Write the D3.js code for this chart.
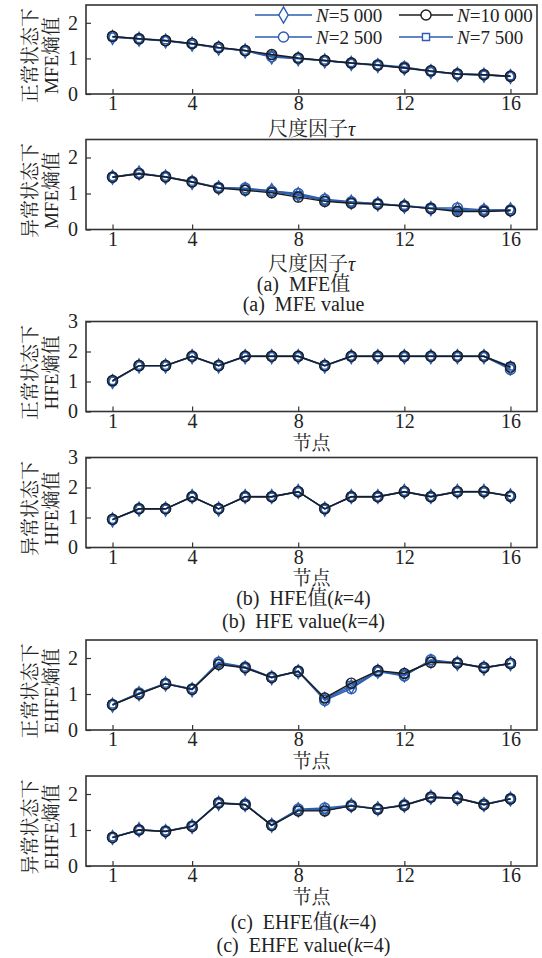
<!DOCTYPE html>
<html>
<head>
<meta charset="utf-8">
<script src="https://cdn.jsdelivr.net/npm/d3@7"></script>
<style>
  body { margin: 0; background: #fff; }
  svg { display: block; }
  text { font-family: "Liberation Serif", "Noto Serif CJK SC", "Noto Sans CJK SC", serif; fill: #222; }
</style>
</head>
<body>
<div id="chart-area"></div>
<script>
// series order: N=2 500, N=5 000, N=7 500, N=10 000
const sampleSizes = ["2 500", "5 000", "7 500", "10 000"];
const nodes = d3.range(1, 17);
const xTicks = [1, 4, 8, 12, 16];

const mfeNormal = [
  [1.61, 1.55, 1.50, 1.41, 1.30, 1.22, 1.05, 1.00, 0.94, 0.87, 0.82, 0.76, 0.64, 0.56, 0.54, 0.50],
  [1.59, 1.54, 1.49, 1.40, 1.29, 1.21, 1.04, 0.99, 0.93, 0.86, 0.80, 0.73, 0.63, 0.55, 0.53, 0.49],
  [1.61, 1.55, 1.51, 1.41, 1.30, 1.22, 1.08, 1.00, 0.94, 0.87, 0.81, 0.74, 0.64, 0.56, 0.54, 0.50],
  [1.62, 1.55, 1.50, 1.42, 1.31, 1.22, 1.11, 1.01, 0.94, 0.87, 0.81, 0.73, 0.65, 0.56, 0.54, 0.50]
];
const mfeAbnormal = [
  [1.46, 1.56, 1.47, 1.33, 1.17, 1.15, 1.07, 1.00, 0.84, 0.77, 0.72, 0.66, 0.60, 0.60, 0.54, 0.54],
  [1.45, 1.57, 1.46, 1.31, 1.16, 1.12, 1.08, 0.97, 0.82, 0.76, 0.71, 0.65, 0.58, 0.56, 0.53, 0.55],
  [1.46, 1.55, 1.47, 1.33, 1.16, 1.13, 1.05, 0.95, 0.80, 0.75, 0.72, 0.66, 0.59, 0.53, 0.52, 0.54],
  [1.45, 1.55, 1.46, 1.32, 1.15, 1.09, 1.02, 0.90, 0.78, 0.73, 0.70, 0.65, 0.58, 0.50, 0.50, 0.52]
];
const hfeNormal = [
  [1.01, 1.53, 1.53, 1.84, 1.53, 1.84, 1.84, 1.84, 1.53, 1.84, 1.84, 1.84, 1.84, 1.84, 1.84, 1.40],
  [1.00, 1.52, 1.52, 1.83, 1.52, 1.83, 1.83, 1.83, 1.52, 1.83, 1.83, 1.83, 1.83, 1.83, 1.83, 1.45],
  [1.02, 1.53, 1.53, 1.84, 1.53, 1.84, 1.84, 1.84, 1.53, 1.84, 1.84, 1.84, 1.84, 1.84, 1.84, 1.50],
  [1.03, 1.53, 1.53, 1.84, 1.53, 1.84, 1.84, 1.84, 1.53, 1.84, 1.84, 1.84, 1.84, 1.84, 1.84, 1.48]
];
const hfeAbnormal = [
  [0.93, 1.29, 1.29, 1.69, 1.29, 1.69, 1.69, 1.86, 1.29, 1.69, 1.69, 1.86, 1.69, 1.86, 1.86, 1.71],
  [0.92, 1.28, 1.28, 1.70, 1.28, 1.70, 1.70, 1.87, 1.28, 1.70, 1.70, 1.87, 1.70, 1.87, 1.87, 1.72],
  [0.93, 1.29, 1.29, 1.69, 1.29, 1.69, 1.69, 1.86, 1.29, 1.69, 1.69, 1.86, 1.69, 1.86, 1.86, 1.71],
  [0.94, 1.29, 1.29, 1.69, 1.29, 1.69, 1.69, 1.86, 1.29, 1.69, 1.69, 1.86, 1.69, 1.86, 1.86, 1.71]
];
const ehfeNormal = [
  [0.70, 1.03, 1.29, 1.14, 1.88, 1.75, 1.47, 1.63, 0.82, 1.15, 1.62, 1.50, 1.95, 1.86, 1.74, 1.85],
  [0.69, 1.01, 1.28, 1.12, 1.85, 1.72, 1.45, 1.62, 0.85, 1.20, 1.63, 1.53, 1.91, 1.85, 1.72, 1.84],
  [0.71, 1.02, 1.29, 1.14, 1.86, 1.74, 1.46, 1.64, 0.87, 1.25, 1.64, 1.55, 1.92, 1.87, 1.73, 1.85],
  [0.70, 1.00, 1.28, 1.13, 1.82, 1.73, 1.46, 1.63, 0.89, 1.30, 1.65, 1.57, 1.88, 1.86, 1.73, 1.85]
];
const ehfeAbnormal = [
  [0.80, 1.00, 0.97, 1.11, 1.76, 1.72, 1.14, 1.58, 1.61, 1.69, 1.58, 1.70, 1.92, 1.89, 1.72, 1.87],
  [0.79, 1.01, 0.96, 1.10, 1.74, 1.71, 1.13, 1.56, 1.57, 1.68, 1.59, 1.69, 1.91, 1.88, 1.71, 1.86],
  [0.80, 1.00, 0.97, 1.11, 1.75, 1.70, 1.13, 1.55, 1.55, 1.67, 1.58, 1.69, 1.90, 1.88, 1.70, 1.87],
  [0.79, 1.00, 0.96, 1.10, 1.75, 1.70, 1.13, 1.53, 1.53, 1.67, 1.58, 1.68, 1.91, 1.88, 1.70, 1.86]
];

const blue = "#2c5eb0";
const black = "#1c1c1c";
const seriesStyle = [
  { color: blue, symbol: d3.symbolCircle, size: 80 },
  { color: blue, symbol: d3.symbolDiamond, size: 55 },
  { color: blue, symbol: d3.symbolSquare, size: 50 },
  { color: black, symbol: d3.symbolCircle, size: 80 }
];

const width = 542, height = 958;
const left = 86, right = 537;

const panels = [
  { data: mfeNormal, top: 5, bottom: 94, yMax: 2.5, yTicks: [0, 1, 2], line1: "正常状态下", line2: "MFE熵值", xTitle: "尺度因子", tau: true, titleOff: 42, titleSize: 20 },
  { data: mfeAbnormal, top: 139.5, bottom: 229.5, yMax: 2.5, yTicks: [0, 1, 2], line1: "异常状态下", line2: "MFE熵值", xTitle: "尺度因子", tau: true, titleOff: 41, titleSize: 20 },
  { data: hfeNormal, top: 321.5, bottom: 411.5, yMax: 3, yTicks: [0, 1, 2, 3], line1: "正常状态下", line2: "HFE熵值", xTitle: "节点", titleOff: 38, titleSize: 19 },
  { data: hfeAbnormal, top: 457.5, bottom: 547.5, yMax: 3, yTicks: [0, 1, 2, 3], line1: "异常状态下", line2: "HFE熵值", xTitle: "节点", titleOff: 37.5, titleSize: 19 },
  { data: ehfeNormal, top: 640, bottom: 730, yMax: 2.5, yTicks: [0, 1, 2], line1: "正常状态下", line2: "EHFE熵值", xTitle: "节点", titleOff: 37.5, titleSize: 19 },
  { data: ehfeAbnormal, top: 776, bottom: 866, yMax: 2.5, yTicks: [0, 1, 2], line1: "异常状态下", line2: "EHFE熵值", xTitle: "节点", titleOff: 37.5, titleSize: 19 }
];

const svg = d3.select("#chart-area")
              .append("svg")
              .attr("width", width)
              .attr("height", height);

const x = d3.scaleLinear().domain([0, 17]).range([left, right]);

panels.forEach(p => {
  const y = d3.scaleLinear().domain([0, p.yMax]).range([p.bottom, p.top]);
  const g = svg.append("g");

  // axes with inward ticks
  const axX = g.append("g")
     .attr("transform", `translate(0, ${p.bottom})`)
     .call(d3.axisBottom(x).tickValues(xTicks).tickFormat(d3.format("d"))
             .tickSizeInner(-5).tickSizeOuter(0).tickPadding(2));
  const axY = g.append("g")
     .attr("transform", `translate(${left}, 0)`)
     .call(d3.axisLeft(y).tickValues(p.yTicks).tickFormat(d3.format("d"))
             .tickSizeInner(-5).tickSizeOuter(0).tickPadding(8));
  [axX, axY].forEach(a => {
    a.attr("font-family", null).attr("font-size", null);
    a.select(".domain").remove();
    a.selectAll("line").attr("stroke", "#333").attr("stroke-width", 1.2);
    a.selectAll("text").attr("font-size", 20).style("fill", "#222");
  });

  g.append("rect")
   .attr("x", left).attr("y", p.top)
   .attr("width", right - left).attr("height", p.bottom - p.top)
   .attr("fill", "none").attr("stroke", "#333").attr("stroke-width", 1.6);

  const line = d3.line().x((d, i) => x(nodes[i])).y(d => y(d));

  p.data.forEach((vals, si) => {
    const st = seriesStyle[si];
    g.append("path")
     .attr("d", line(vals))
     .attr("fill", "none")
     .attr("stroke", st.color)
     .attr("stroke-width", 1.4);
    g.selectAll(null)
     .data(vals)
     .enter()
     .append("path")
     .attr("transform", (d, i) => `translate(${x(nodes[i])}, ${y(d)})`)
     .attr("d", d3.symbol().type(st.symbol).size(st.size))
     .attr("fill", "none")
     .attr("stroke", st.color)
     .attr("stroke-width", 1.4);
  });

  // y title, two rotated lines
  const yc = (p.top + p.bottom) / 2 + 6;
  [[p.line1, 30], [p.line2, 51]].forEach(([txt, xc]) => {
    g.append("text")
     .attr("transform", `translate(${xc}, ${yc}) rotate(-90)`)
     .attr("text-anchor", "middle")
     .attr("dy", "0.36em")
     .attr("font-size", 19)
     .text(txt);
  });

  // x title
  const xt = g.append("text")
     .attr("x", (left + right) / 2)
     .attr("y", p.bottom + p.titleOff)
     .attr("text-anchor", "middle")
     .attr("font-size", p.titleSize)
     .text(p.xTitle);
  if (p.tau) xt.append("tspan").attr("font-style", "italic").text("τ");
});

// captions
const captions = [
  { y: 291, pre: "(a)  MFE值", k: false },
  { y: 311, pre: "(a)  MFE value", k: false },
  { y: 605, pre: "(b)  HFE值(", k: true },
  { y: 628, pre: "(b)  HFE value(", k: true },
  { y: 929, pre: "(c)  EHFE值(", k: true },
  { y: 952, pre: "(c)  EHFE value(", k: true }
];
captions.forEach(c => {
  const t = svg.append("text")
     .attr("x", (left + right) / 2 - 8)
     .attr("y", c.y)
     .attr("text-anchor", "middle")
     .attr("font-size", 20)
     .style("white-space", "pre")
     .text(c.pre);
  if (c.k) {
    t.append("tspan").attr("font-style", "italic").text("k");
    t.append("tspan").text("=4)");
  }
});

// legend in first panel
const legendItems = [
  { si: 1, col: 0, row: 0 },
  { si: 0, col: 0, row: 1 },
  { si: 3, col: 1, row: 0 },
  { si: 2, col: 1, row: 1 }
];
const legendCols = [{ x0: 255, x1: 312, tx: 316 }, { x0: 399, x1: 453, tx: 457 }];
const legendRows = [15, 37];
const legend = svg.append("g");
legendItems.forEach(it => {
  const st = seriesStyle[it.si];
  const c = legendCols[it.col];
  const ry = legendRows[it.row];
  legend.append("line")
        .attr("x1", c.x0).attr("x2", c.x1)
        .attr("y1", ry).attr("y2", ry)
        .attr("stroke", st.color).attr("stroke-width", 1.4);
  legend.append("path")
        .attr("transform", `translate(${(c.x0 + c.x1) / 2}, ${ry})`)
        .attr("d", d3.symbol().type(st.symbol).size(it.si === 1 ? 75 : st.size))
        .attr("fill", "#fff")
        .attr("stroke", st.color)
        .attr("stroke-width", 1.4);
  const t = legend.append("text")
        .attr("x", c.tx)
        .attr("y", ry)
        .attr("dy", "0.35em")
        .attr("font-size", 19);
  t.append("tspan").attr("font-style", "italic").text("N");
  t.append("tspan").text("=" + sampleSizes[it.si]);
});
</script>
</body>
</html>
